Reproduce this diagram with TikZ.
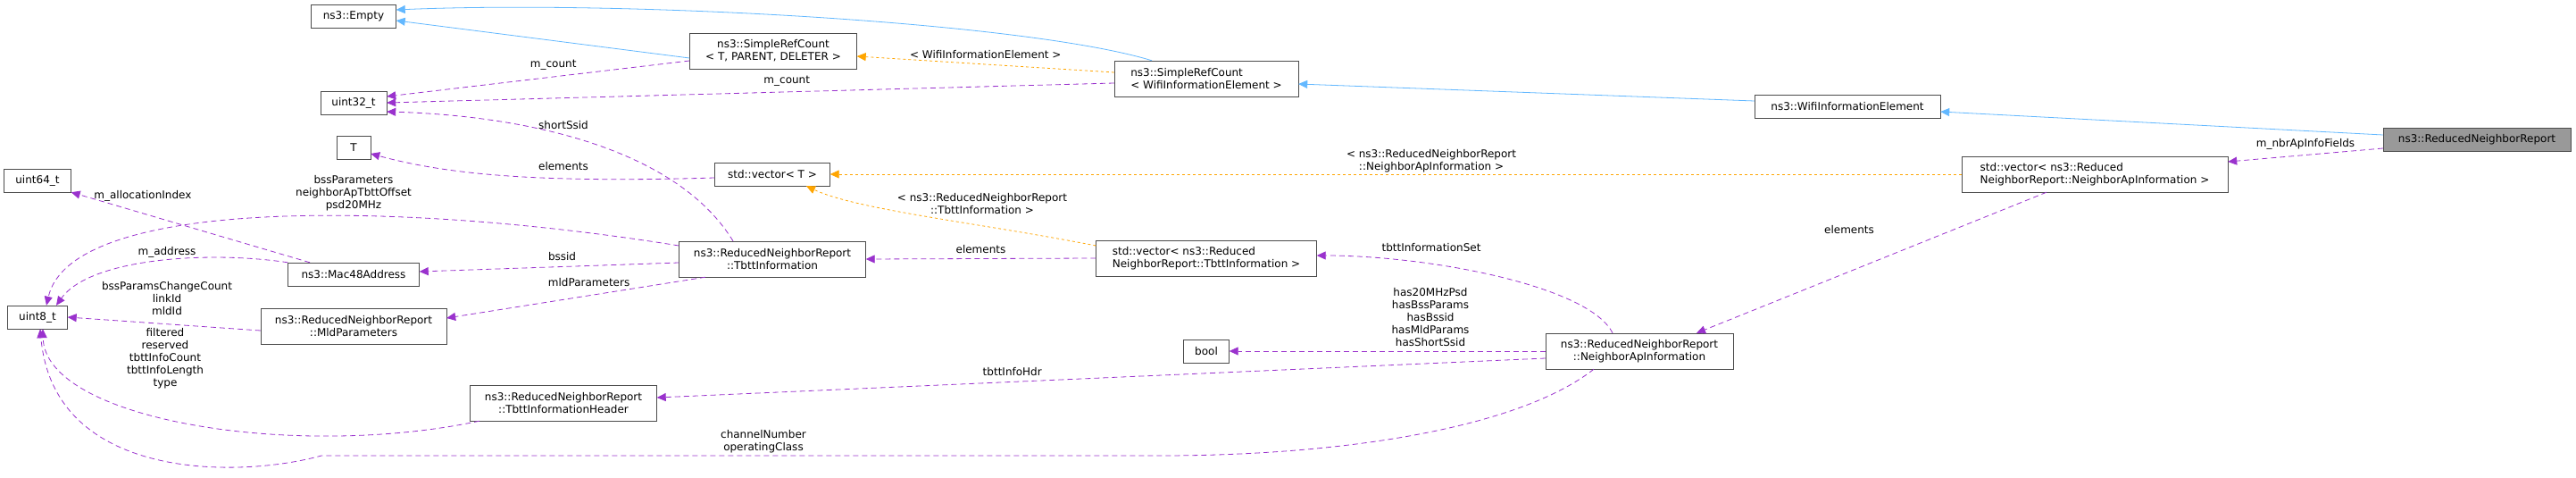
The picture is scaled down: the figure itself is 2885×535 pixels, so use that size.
\documentclass[tikz,border=0pt]{standalone}
\usepackage{fontspec}
\setmainfont{DejaVu Sans}
\usetikzlibrary{arrows.meta}
\definecolor{inhblue}{HTML}{63B8FF}
\definecolor{tplorange}{HTML}{FFA500}
\definecolor{usepurple}{HTML}{9A32CD}
\begin{document}
\begin{tikzpicture}[
    x=1pt, y=-1pt,
    font=\fontsize{12pt}{14pt}\selectfont,
    cls/.style={
        rectangle,
        draw=black!70,
        fill=white,
        inner sep=0pt,
        minimum height=26pt,
        align=center,
        },
    cls2/.style={
        cls,
        minimum height=40pt,
        },
    inherit/.style={
        draw=inhblue,
        thick,
        -{Triangle[length=10pt,width=9pt]},
        },
    tmpl/.style={
        draw=tplorange,
        thick,
        dashed,
        -{Triangle[length=10pt,width=9pt]},
        },
    uses/.style={
        draw=usepurple,
        thick,
        dash pattern=on 6pt off 4pt,
        -{Triangle[length=10pt,width=9pt]},
        },
    elabel/.style={
        font=\fontsize{12pt}{14pt}\selectfont,
        align=center,
        },
    ]

    \useasboundingbox (0,0) rectangle (2885,535);

    % classes
    \node [cls, minimum width=95pt] (empty) at (396,18) {ns3::Empty};
    \node [cls2, minimum width=187pt] (srcT) at (866,57) {ns3::SimpleRefCount\\\textless{} T, PARENT, DELETER \textgreater};
    \node [cls, minimum width=74pt] (u32) at (396,115) {uint32\_t};
    \node [cls, minimum width=38pt] (tee) at (396,165) {T};
    \node [cls, minimum width=129pt] (vecT) at (865,195) {std::vector\textless{} T \textgreater};
    \node [cls, minimum width=75pt] (u64) at (42,202) {uint64\_t};
    \node [cls, minimum width=147pt] (mac) at (396,307) {ns3::Mac48Address};
    \node [cls2, minimum width=209pt] (tinfo) at (865,290) {ns3::ReducedNeighborReport\\::TbttInformation};
    \node [cls, minimum width=67pt] (u8) at (42,355) {uint8\_t};
    \node [cls2, minimum width=208pt] (mld) at (396,365) {ns3::ReducedNeighborReport\\::MldParameters};
    \node [cls2, minimum width=209pt] (thdr) at (631,451) {ns3::ReducedNeighborReport\\::TbttInformationHeader};
    \node [cls2, minimum width=206pt, align=left] (srcW) at (1351,88) {ns3::SimpleRefCount\\\textless{} WifiInformationElement \textgreater};
    \node [cls2, minimum width=247pt, align=left] (vecTi) at (1351,289) {std::vector\textless{} ns3::Reduced\\NeighborReport::TbttInformation \textgreater};
    \node [cls, minimum width=51pt] (bool) at (1351,393) {bool};
    \node [cls2, minimum width=210pt] (nai) at (1836,393) {ns3::ReducedNeighborReport\\::NeighborApInformation};
    \node [cls, minimum width=208pt] (wie) at (2069,119) {ns3::WifiInformationElement};
    \node [cls2, minimum width=298pt, align=left] (vecN) at (2346,195) {std::vector\textless{} ns3::Reduced\\NeighborReport::NeighborApInformation \textgreater};
    \node [cls, minimum width=210pt, fill=black!40] (rnr) at (2774,156) {ns3::ReducedNeighborReport};

    % inheritance
    \draw [inherit] ([yshift=-8pt]srcT.west) -- ([yshift=-5pt]empty.east);
    \draw [inherit] ([xshift=-61pt]srcW.north) .. controls (1150,25) and (700,0) .. ([yshift=7pt]empty.east);
    \draw [inherit] ([yshift=6pt]wie.west) -- ([yshift=-6pt]srcW.east);
    \draw [inherit] ([yshift=5pt]rnr.west) -- ([yshift=-6pt]wie.east);

    % template arguments
    \draw [tmpl] ([yshift=7pt]srcW.west) -- ([yshift=-6pt]srcT.east) node [elabel, midway, above=3pt] {\textless{} WifiInformationElement \textgreater};
    \draw [tmpl] ([yshift=14pt]vecTi.west) .. controls (1100,250) and (960,235) .. ([xshift=38pt]vecT.south);
    \node [elabel] (lblTi) at (1100,228) {\textless{} ns3::ReducedNeighborReport\\::TbttInformation \textgreater};
    \draw [tmpl] (vecN.west) -- (vecT.east);
    \node [elabel] (lblN) at (1603,180) {\textless{} ns3::ReducedNeighborReport\\::NeighborApInformation \textgreater};

    % members
    \draw [uses] ([yshift=-11pt]srcT.west) -- ([yshift=7pt]u32.east) node [elabel, pos=0.45, above=4pt] {m\_count};
    \draw [uses] ([yshift=-5pt]srcW.west) -- (u32.east) node [elabel, pos=0.45, above=3pt] {m\_count};
    \draw [uses] ([xshift=-44pt]tinfo.north) .. controls (760,170) and (600,130) .. ([yshift=-10pt]u32.east);
    \node [elabel] (lblss) at (631,140) {shortSsid};
    \draw [uses] ([yshift=-4pt]vecT.west) .. controls (600,205) and (500,195) .. ([yshift=-7pt]tee.east);
    \node [elabel] (lblel) at (631,186) {elements};
    \draw [uses] ([yshift=15pt]tinfo.west) .. controls (450,225) and (80,220) .. ([xshift=10pt]u8.north);
    \node [elabel] (lblbss) at (396,216) {bssParameters\\neighborApTbttOffset\\psd20MHz};
    \draw [uses] ([yshift=-4pt]tinfo.west) -- ([yshift=3pt]mac.east) node [elabel, pos=0.45, above=3pt] {bssid};
    \draw [uses] ([xshift=-75pt]tinfo.south) -- ([yshift=9pt]mld.east) node [elabel, pos=0.45, above=6pt] {mldParameters};
    \draw [uses] ([xshift=-49pt]mac.north) -- (u64.south east) node [elabel, pos=0.7, above=10pt] {m\_allocationIndex};
    \draw [uses] (mac.north west) .. controls (230,280) and (100,290) .. ([xshift=21pt]u8.north);
    \node [elabel] (lbladdr) at (187,282) {m\_address};
    \draw [uses] ([yshift=-5pt]mld.west) -- (u8.east);
    \node [elabel] (lblmld) at (187,334) {bssParamsChangeCount\\linkId\\mldId};
    \draw [uses] ([xshift=-94pt]thdr.south) .. controls (330,515) and (50,470) .. ([xshift=6pt]u8.south);
    \node [elabel] (lblhdr) at (185,401) {filtered\\reserved\\tbttInfoCount\\tbttInfoLength\\type};
    \draw [uses] ([xshift=-51pt]nai.south) .. controls (1700,480) and (1500,510) .. (1300,510) -- (360,510) .. controls (270,535) and (60,540) .. ([xshift=3pt]u8.south);
    \node [elabel] (lblch) at (855,494) {channelNumber\\operatingClass};
    \draw [uses] (vecTi.west) -- (tinfo.east) node [elabel, midway, above=2pt] {elements};
    \draw [uses] ([xshift=-30pt]nai.north) .. controls (1780,320) and (1600,286) .. ([yshift=3pt]vecTi.east);
    \node [elabel] (lblset) at (1603,277) {tbttInformationSet};
    \draw [uses] (nai.west) -- (bool.east);
    \node [elabel] (lblhas) at (1602,355) {has20MHzPsd\\hasBssParams\\hasBssid\\hasMldParams\\hasShortSsid};
    \draw [uses] ([yshift=-8pt]nai.west) -- ([yshift=6pt]thdr.east) node [elabel, pos=0.6, above=3pt] {tbttInfoHdr};
    \draw [uses] ([xshift=-54pt]vecN.south) -- ([xshift=64pt]nai.north);
    \node [elabel] (lblel2) at (2071,257) {elements};
    \draw [uses] ([yshift=-10pt]rnr.west) -- ([yshift=14pt]vecN.east) node [elabel, midway, above=2pt] {m\_nbrApInfoFields};

\end{tikzpicture}
\end{document}
